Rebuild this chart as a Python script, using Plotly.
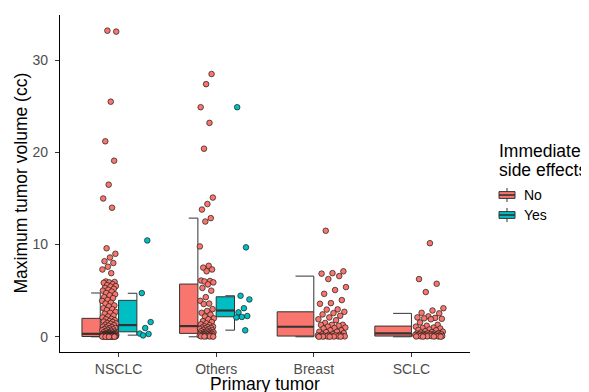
import plotly.graph_objects as go

# ---------------- data ----------------
categories = ["NSCLC", "Others", "Breast", "SCLC"]
levels = ["No", "Yes"]
level_colors = ["#F8766D", "#00BFC4"]

# box statistics per group
box_cat = ["NSCLC", "NSCLC", "Others", "Others", "Breast", "SCLC"]
box_level = ["No", "Yes", "No", "Yes", "No", "No"]
box_low = [0.0, 0.18, 0.0, 0.72, 0.0, 0.0]
box_q1 = [0.03, 0.54, 0.37, 2.17, 0.08, 0.08]
box_med = [0.32, 1.27, 1.16, 2.85, 1.09, 0.37]
box_q3 = [2.0, 3.95, 5.72, 4.34, 2.71, 1.16]
box_high = [4.75, 4.72, 12.87, 4.45, 6.58, 2.54]

nsclc_no = [33.2, 33.1, 25.5, 21.2, 19.1, 16.5, 15.0, 14.0, 9.6, 9.0, 8.6, 8.2, 8.0, 7.6, 7.3, 6.9,
            6.0, 5.95, 5.9, 5.85, 5.7, 5.6, 5.5, 5.45, 5.3, 5.2, 5.1, 5.0, 4.9,
            4.75, 4.6, 4.5, 4.3, 4.2, 4.0, 3.9, 3.7, 3.6, 3.4, 3.3, 3.1, 3.0, 2.9, 2.7, 2.6, 2.5, 2.3, 2.2, 2.1,
            1.95, 1.9, 1.8, 1.7, 1.65, 1.6, 1.5, 1.45, 1.4, 1.3, 1.25, 1.2, 1.1, 1.05, 1.0, 0.95, 0.9, 0.85,
            0.8, 0.75, 0.7, 0.65, 0.6, 0.55, 0.5, 0.48, 0.45, 0.42, 0.4, 0.38,
            0.34, 0.33, 0.32, 0.3, 0.3, 0.28, 0.27, 0.25, 0.25, 0.24, 0.22, 0.21, 0.2, 0.2, 0.19, 0.18, 0.17,
            0.16, 0.15, 0.15, 0.14, 0.13, 0.12, 0.12, 0.11, 0.1, 0.1, 0.09, 0.09, 0.08, 0.08, 0.07, 0.07,
            0.06, 0.06, 0.05, 0.05, 0.05, 0.04, 0.04, 0.03, 0.03, 0.03, 0.02, 0.02, 0.02, 0.01, 0.01, 0.01, 0.0]
nsclc_yes = [10.45, 4.74, 1.6, 0.95, 0.35, 0.3, 0.15]
others_no = [28.5, 27.4, 24.9, 23.2, 20.4, 15.1, 14.4, 13.8, 12.87, 12.5, 9.8, 7.7, 7.5, 7.3, 7.1,
             6.1, 6.05, 6.0, 5.9, 5.68, 5.3, 5.0, 4.3, 3.9, 3.6, 3.55, 3.0, 2.8, 2.6, 2.4, 2.2, 2.0, 1.9,
             1.7, 1.6, 1.45, 1.35, 1.25, 1.15, 1.1, 1.05, 1.0, 0.95, 0.9, 0.85, 0.8, 0.75, 0.7, 0.65, 0.6,
             0.55, 0.5, 0.48, 0.45, 0.42, 0.4, 0.35, 0.33, 0.3, 0.28, 0.25, 0.22, 0.2, 0.18, 0.15, 0.13,
             0.1, 0.09, 0.08, 0.06, 0.05, 0.04, 0.03, 0.02]
others_yes = [24.9, 9.7, 4.45, 4.05, 3.1, 2.65, 2.25, 2.15, 2.1, 0.7]
breast_no = [11.5, 7.1, 6.9, 6.85, 6.58, 6.26, 5.39, 5.07, 4.66, 3.98, 3.65, 3.58, 2.97, 2.95, 2.71,
             2.57, 2.43, 2.28, 2.1, 1.9, 1.8, 1.5, 1.3, 1.3, 1.28, 1.2, 1.1, 1.0, 0.95, 0.9, 0.7, 0.7,
             0.55, 0.55, 0.5, 0.4, 0.3, 0.25, 0.2, 0.2, 0.15, 0.15, 0.1, 0.1, 0.1, 0.08, 0.05, 0.05,
             0.05, 0.03, 0.02, 0.02, 0.01, 0.01]
sclc_no = [10.15, 6.26, 5.75, 4.85, 3.1, 2.85, 2.6, 2.54, 2.21, 2.1, 2.05, 2.0, 1.95, 1.9, 1.55, 1.3,
           1.2, 1.1, 1.0, 0.95, 0.9, 0.8, 0.75, 0.7, 0.6, 0.55, 0.5, 0.45, 0.4, 0.38, 0.35, 0.33, 0.3,
           0.3, 0.28, 0.25, 0.25, 0.22, 0.2, 0.2, 0.18, 0.15, 0.15, 0.12, 0.1, 0.1, 0.08, 0.08, 0.06,
           0.05, 0.05, 0.04, 0.03, 0.02, 0.01]
point_values = [nsclc_no, nsclc_yes, others_no, others_yes, breast_no, sclc_no]

y_ticks = [0, 10, 20, 30]
x_title = "Primary tumor"
y_title = "Maximum tumor volume (cc)"
legend_title = ["Immediate", "side effects"]

# ---------------- layout helpers ----------------
FONT = "Liberation Sans, Arial, Helvetica, sans-serif"
OFF = 8                      # page body margin of the html page
W, H = 589 - OFF, 392 - OFF
# plot panel in window pixels
PL, PR, PT, PB = 60, 470, 15, 352
ML, MR, MT, MB = PL - OFF, 589 - PR, PT - OFF, 392 - PB
PW, PH = PR - PL, PB - PT
OUT = "#333333"


def px_x(p):
    return (p - PL) / PW


def px_y(p):
    return (PB - p) / PH


def slot(i):
    cat = box_cat[i]
    present = [box_level[j] for j in range(len(box_cat)) if box_cat[j] == cat]
    n = len(present)
    w = 0.75 / n
    k = present.index(box_level[i])
    c = categories.index(cat) - 0.375 + w * (k + 0.5)
    return c, w


fig = go.Figure()

# boxes (left half of each dodge slot)
for li, lev in enumerate(levels):
    idx = [i for i in range(len(box_cat)) if box_level[i] == lev]
    xs, ws, bases, hs = [], [], [], []
    for i in idx:
        c, w = slot(i)
        xs.append(c - w / 4)
        ws.append(w / 2)
        bases.append(box_q1[i])
        hs.append(box_q3[i] - box_q1[i])
    fig.add_trace(go.Bar(x=xs, y=hs, base=bases, width=ws,
                         marker=dict(color=level_colors[li], line=dict(color=OUT, width=1)),
                         hoverinfo="skip", showlegend=False))

# whiskers and medians
wx, wy, mx, my = [], [], [], []
for i in range(len(box_cat)):
    c, w = slot(i)
    wx += [c, c, None, c - w / 4, c, None, c, c, None, c - w / 4, c, None]
    wy += [box_q3[i], box_high[i], None, box_high[i], box_high[i], None,
           box_q1[i], box_low[i], None, box_low[i], box_low[i], None]
    mx += [c - w / 2, c, None]
    my += [box_med[i], box_med[i], None]
fig.add_trace(go.Scatter(x=wx, y=wy, mode="lines", line=dict(color=OUT, width=1),
                         hoverinfo="skip", showlegend=False))
fig.add_trace(go.Scatter(x=mx, y=my, mode="lines", line=dict(color=OUT, width=2.2),
                         hoverinfo="skip", showlegend=False))

# jittered points (right half of each slot), deterministic golden-ratio jitter
for i in range(len(box_cat)):
    c, w = slot(i)
    vals = point_values[i]
    xs = []
    for j in range(len(vals)):
        u = (0.37 + 0.23 * i + j * 0.6180339887) % 1.0
        xs.append(c + (w / 2) * (0.1 + 0.78 * u))
    col = level_colors[levels.index(box_level[i])]
    fig.add_trace(go.Scatter(x=xs, y=vals, mode="markers",
                             marker=dict(size=5.6, color=col, line=dict(color="#1a1a1a", width=0.7)),
                             hoverinfo="y", showlegend=False))

axis_common = dict(showline=True, linecolor="black", linewidth=1.1, ticks="outside", ticklen=4,
                   tickwidth=1, tickcolor=OUT, showgrid=False, zeroline=False,
                   tickfont=dict(family=FONT, size=14, color="#4d4d4d"))

fig.update_layout(
    width=W, height=H, margin=dict(l=ML, r=MR, t=MT, b=MB, autoexpand=False),
    plot_bgcolor="white", paper_bgcolor="white", barmode="overlay", showlegend=False,
    font=dict(family=FONT),
    xaxis=dict(range=[-0.6, 3.6], tickvals=list(range(len(categories))), ticktext=categories,
               **axis_common),
    yaxis=dict(range=[-1.65, 34.9], tickvals=y_ticks, ticklabelstandoff=4, **axis_common),
)

ann = []
ann.append(dict(text=x_title, xref="paper", yref="paper", x=0.5, y=px_y(384), xanchor="center",
                yanchor="middle", showarrow=False, font=dict(family=FONT, size=17.5, color="black")))
ann.append(dict(text=y_title, xref="paper", yref="paper", x=px_x(20), y=0.5, xanchor="center",
                yanchor="middle", textangle=-90, showarrow=False,
                font=dict(family=FONT, size=17.5, color="black")))
for t, yy in zip(legend_title, [150.7, 169.5]):
    ann.append(dict(text=t, xref="paper", yref="paper", x=px_x(496.5), y=px_y(yy), xanchor="left",
                    yanchor="middle", showarrow=False, font=dict(family=FONT, size=17.5, color="black")))

shapes = []
for li, (lev, yc) in enumerate(zip(levels, [195, 215])):
    shapes.append(dict(type="rect", xref="paper", yref="paper", x0=px_x(499), x1=px_x(515),
                       y0=px_y(yc + 3.4), y1=px_y(yc - 3.4), fillcolor=level_colors[li],
                       line=dict(color=OUT, width=1)))
    shapes.append(dict(type="line", xref="paper", yref="paper", x0=px_x(499), x1=px_x(515),
                       y0=px_y(yc), y1=px_y(yc), line=dict(color=OUT, width=1.6)))
    shapes.append(dict(type="line", xref="paper", yref="paper", x0=px_x(507), x1=px_x(507),
                       y0=px_y(yc - 3.4), y1=px_y(yc - 7), line=dict(color=OUT, width=1)))
    shapes.append(dict(type="line", xref="paper", yref="paper", x0=px_x(507), x1=px_x(507),
                       y0=px_y(yc + 3.4), y1=px_y(yc + 7), line=dict(color=OUT, width=1)))
    ann.append(dict(text=lev, xref="paper", yref="paper", x=px_x(521.5), y=px_y(yc), xanchor="left",
                    yanchor="middle", showarrow=False, font=dict(family=FONT, size=14, color="black")))

fig.update_layout(annotations=ann, shapes=shapes)
fig.write_html("out.html")
